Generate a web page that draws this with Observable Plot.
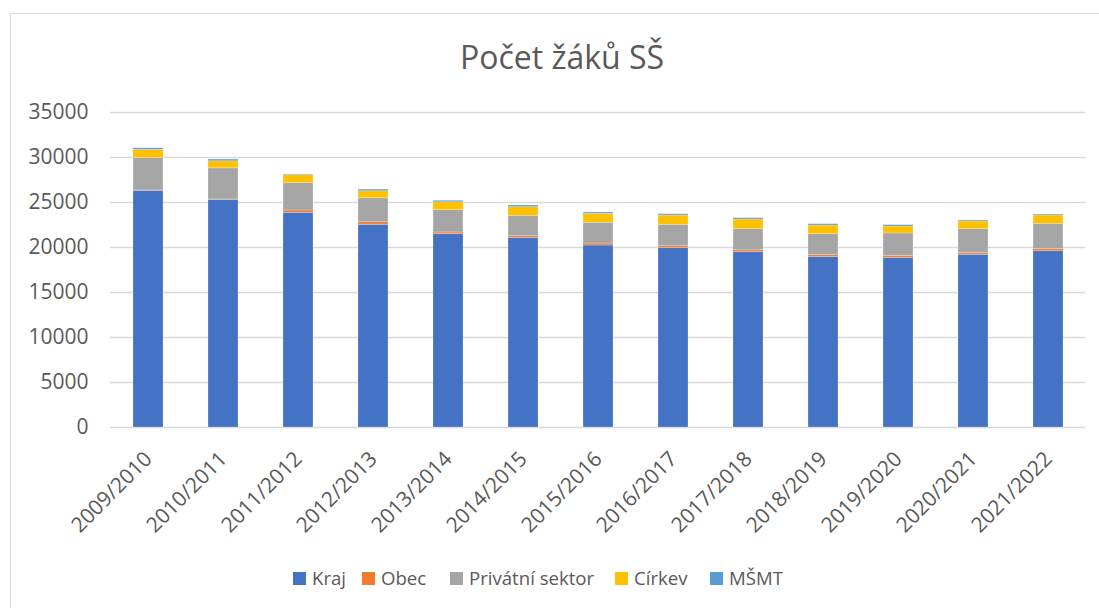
<!DOCTYPE html>
<html>
<head>
<meta charset="utf-8">
<script src="https://cdn.jsdelivr.net/npm/d3@7"></script>
<script src="https://cdn.jsdelivr.net/npm/@observablehq/plot@0.6"></script>
<style>
  html, body { margin: 0; padding: 0; background: #fff; }
  #frame { position: relative; width: 1099px; height: 608px; overflow: hidden; font-family: "Open Sans", sans-serif; color: #595959; }
  #border { position: absolute; left: 10px; top: 13px; width: 1100px; height: 700px; border: 1px solid #d9d9d9; box-sizing: border-box; }
  #title { position: absolute; left: 562px; top: 41px; transform: translateX(-50%); font-size: 32px; line-height: 32px; white-space: nowrap; }
  #chart { position: absolute; left: 0; top: 90px; }
  #legend { position: absolute; left: 0; top: 569px; width: 1099px; height: 24px; font-size: 18.6px; line-height: 18px; white-space: nowrap; }
  .item { position: absolute; top: 0; display: flex; align-items: center; }
  .sw { width: 13px; height: 13px; margin-right: 6px; }
</style>
</head>
<body>
<div id="frame">
  <div id="border"></div>
  <div id="title">Počet žáků SŠ</div>
  <div id="chart"></div>
  <div id="legend"></div>
</div>
<script>
const years = ["2009/2010","2010/2011","2011/2012","2012/2013","2013/2014","2014/2015","2015/2016","2016/2017","2017/2018","2018/2019","2019/2020","2020/2021","2021/2022"];
const seriesNames = ["Kraj","Obec","Privátní sektor","Církev","MŠMT"];
const colors = ["#4472C4","#ED7D31","#A5A5A5","#FFC000","#5B9BD5"];
const kraj    = [26300,25300,23850,22520,21480,21070,20220,19930,19480,18930,18850,19190,19590];
const obec    = [40,40,260,290,190,190,220,220,220,220,220,180,260];
const privat  = [3600,3460,3040,2660,2480,2260,2300,2370,2340,2330,2490,2670,2780];
const cirkev  = [900,780,890,780,880,960,1000,1040,1070,960,770,850,930];
const msmt    = [180,190,70,180,160,190,150,140,150,150,150,110,110];
const yTicks  = [0,5000,10000,15000,20000,25000,30000,35000];
const legendLeft = [293,362,450,615,710];

const seriesValues = [kraj, obec, privat, cirkev, msmt];
const data = [];
years.forEach((yr, i) => {
  seriesNames.forEach((s, j) => data.push({year: yr, series: s, value: seriesValues[j][i]}));
});

const plot = Plot.plot({
  width: 1099,
  height: 460,
  marginLeft: 110,
  marginRight: 14,
  marginTop: 22,
  marginBottom: 123,
  style: {fontFamily: "Open Sans", fontSize: "21px", color: "#595959", background: "transparent"},
  x: {domain: years, paddingInner: 0.6, paddingOuter: 0.3, label: null},
  y: {domain: [0, 35000], label: null},
  color: {domain: seriesNames, range: colors},
  marks: [
    Plot.ruleY(yTicks, {stroke: "#d9d9d9", strokeWidth: 1.3}),
    Plot.barY(data, {x: "year", y: "value", fill: "series", order: seriesNames, stroke: "white", strokeOpacity: 0.3, strokeWidth: 0.8}),
    Plot.axisY({ticks: yTicks, tickSize: 0, tickPadding: 22, tickFormat: d => String(d), fontSize: 21}),
    Plot.axisX({tickSize: 0, tickPadding: 28, tickRotate: -45, fontSize: 21})
  ]
});
document.getElementById("chart").appendChild(plot);

const legend = document.getElementById("legend");
seriesNames.forEach((s, j) => {
  const it = document.createElement("div");
  it.className = "item";
  it.style.left = legendLeft[j] + "px";
  const sw = document.createElement("div");
  sw.className = "sw";
  sw.style.background = colors[j];
  const tx = document.createElement("span");
  tx.textContent = s;
  it.appendChild(sw); it.appendChild(tx);
  legend.appendChild(it);
});
</script>
</body>
</html>
